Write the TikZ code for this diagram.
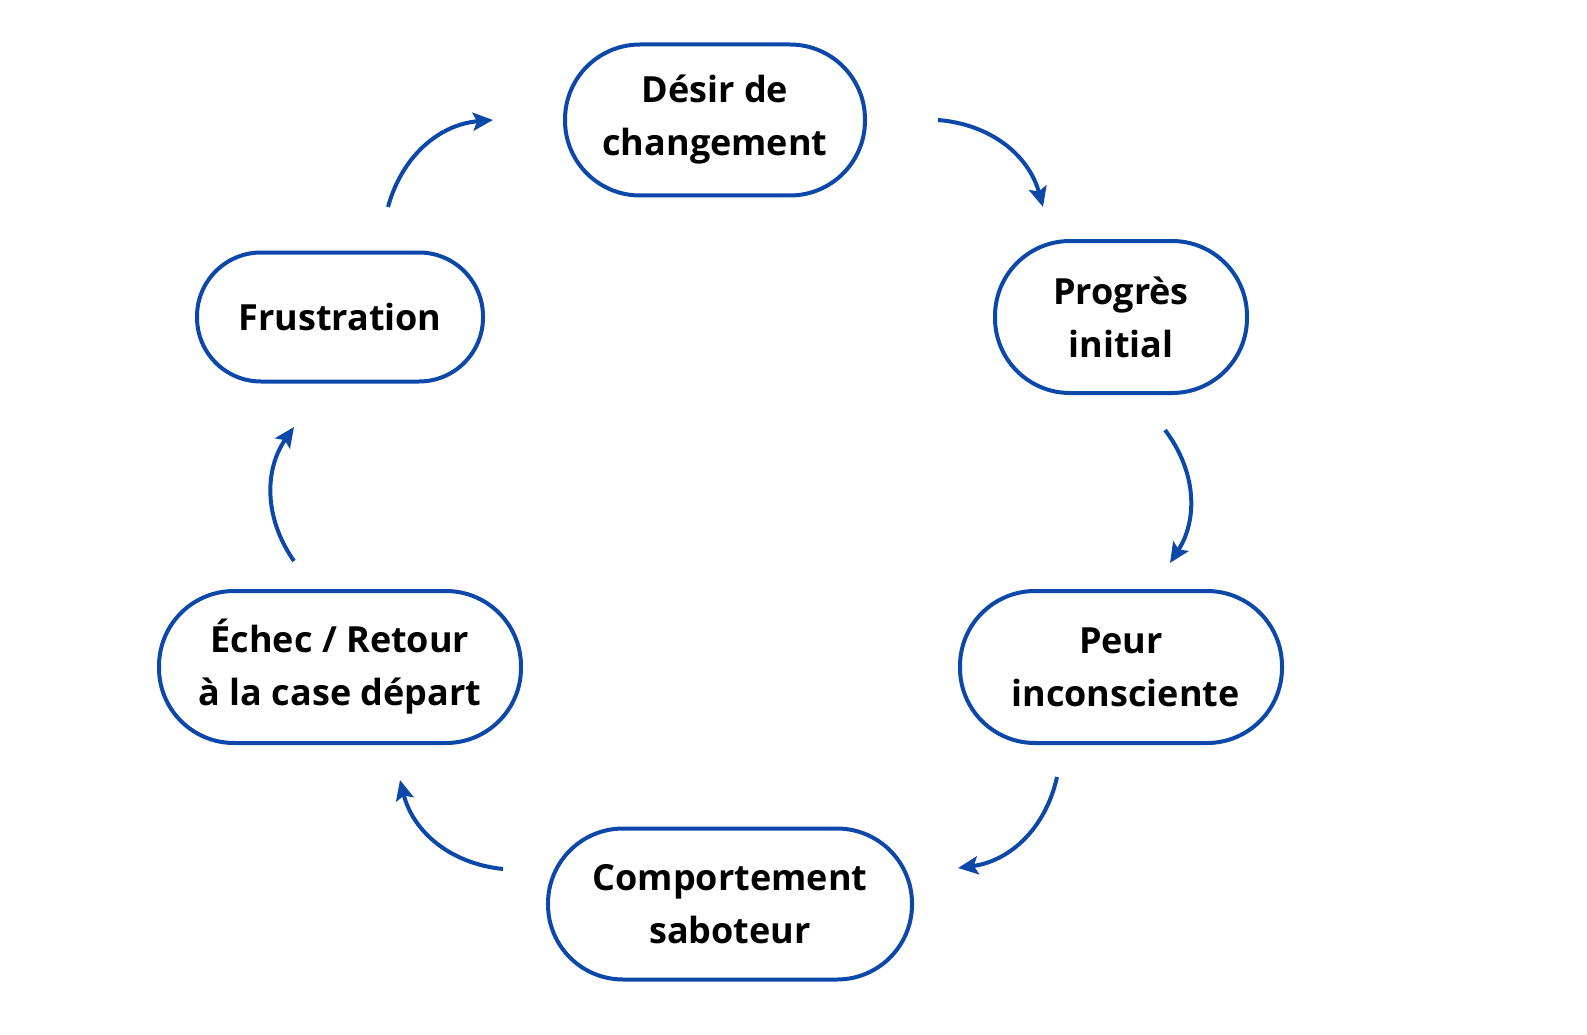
\documentclass[tikz,border=0pt]{standalone}
\usepackage{fontspec}
\setmainfont{Open Sans}
\usetikzlibrary{arrows.meta}
\definecolor{cblue}{RGB}{12,72,170}
\tikzset{
  box/.style={draw=cblue, line width=4pt, rounded corners=75pt, align=center, inner sep=0pt,
    font=\fontsize{36}{53}\selectfont\bfseries},
  flow/.style={draw=cblue, line width=4pt, -{Stealth[length=20pt,width=18pt,inset=4pt]}, bend left=35}
}
\begin{document}
\begin{tikzpicture}[x=1pt,y=-1pt]
\useasboundingbox (0,0) rectangle (1587,1035);
\node[box, minimum width=300pt, minimum height=151pt] (d) at (715,120) {Désir de\\changement};
\node[box, minimum width=252pt, minimum height=152pt] (p) at (1121,317) {Progrès\\initial};
\node[box, minimum width=322pt, minimum height=152pt] (u) at (1121,667) {Peur\\\ inconsciente};
\node[box, minimum width=364pt, minimum height=151pt] (c) at (730,904) {Comportement\\saboteur};
\node[box, minimum width=362pt, minimum height=152pt] (e) at (340,667) {Échec / Retour\\à la case départ};
\node[box, minimum width=286pt, minimum height=129pt, rounded corners=64pt] (f) at (340,317) {Frustration};
\coordinate (a1) at (938,120); \coordinate (b1) at (1043,207);
\coordinate (a2) at (1165,430); \coordinate (b2) at (1170,563);
\coordinate (a3) at (1057,777); \coordinate (b3) at (958,868);
\coordinate (a4) at (503,869); \coordinate (b4) at (400,780);
\coordinate (a5) at (294,561); \coordinate (b5) at (294,427);
\coordinate (a6) at (388,207); \coordinate (b6) at (493,120);
\draw[flow] (a1) to (b1);
\draw[flow] (a2) to (b2);
\draw[flow] (a3) to (b3);
\draw[flow] (a4) to (b4);
\draw[flow] (a5) to (b5);
\draw[flow] (a6) to (b6);
\end{tikzpicture}
\end{document}
